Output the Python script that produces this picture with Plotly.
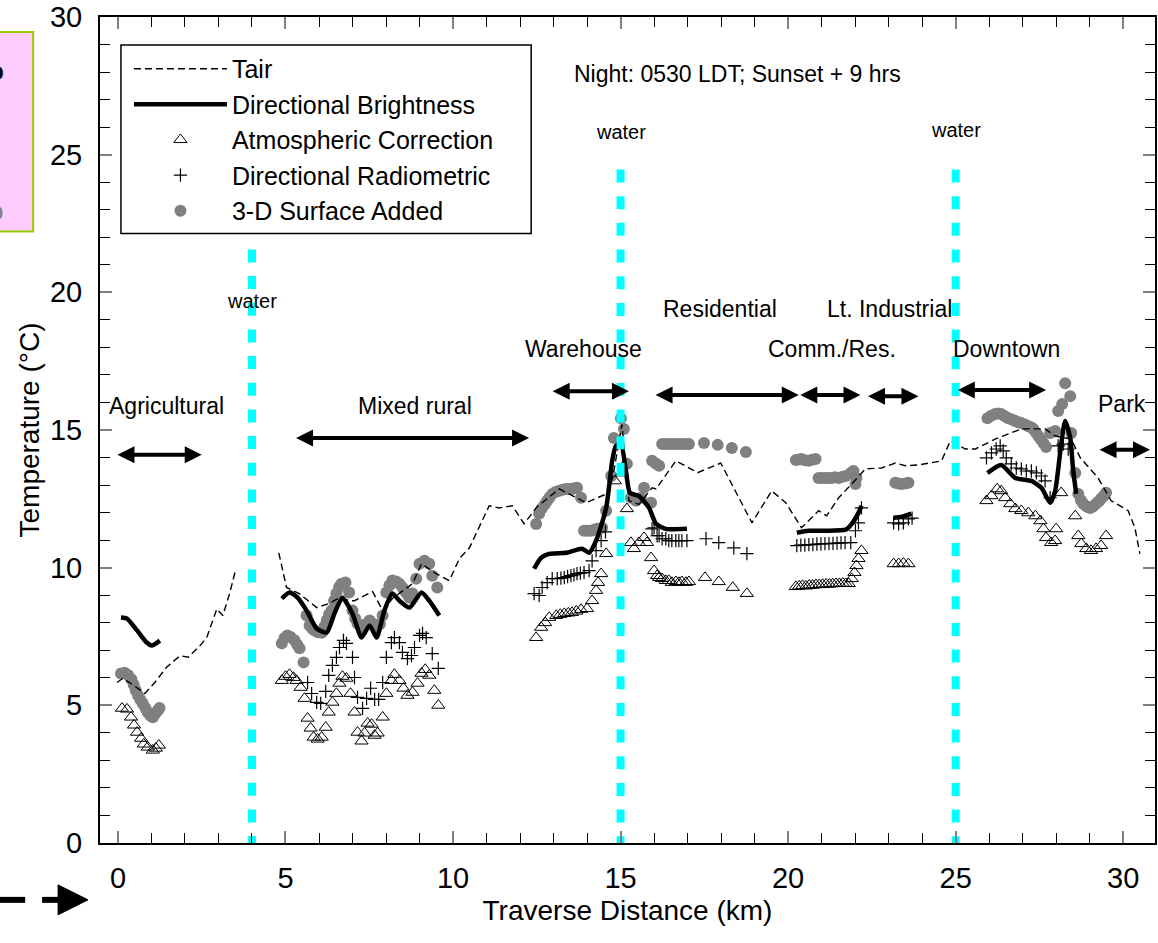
import plotly.graph_objects as go

FONT = "Liberation Sans, Arial, sans-serif"

# ---------------- data (traverse distance in km, temperature in deg C) ----------------
# Air temperature (dashed line); None separates the two measured stretches
tair_x = [-0.03, 0.15, 0.5, 0.8, 1.1, 1.45, 1.85, 2.1, 2.45, 2.65, 2.95, 3.13, 3.33, 3.52, None,
          4.8, 5.03, 5.42, 5.93, 6.3, 6.61, 6.91, 7.06, 7.6, 7.9, 8.19, 8.79, 9.06, 9.5, 9.89,
          10.19, 10.49, 11.08, 11.38, 11.77, 12.12, 12.5, 13.17, 13.97, 14.66, 14.8, 15.04,
          15.25, 15.55, 15.94, 16.06, 16.65, 17.3, 17.99, 18.53, 18.92, 19.51, 19.93, 20.4,
          20.91, 21.15, 21.51, 21.9, 22.31, 22.79, 23.2, 23.5, 23.9, 24.58, 24.84, 25.29, 25.59,
          26.18, 26.96, 27.67, 27.97, 28.45, 28.72, 29.25, 29.64, 30.15, 30.35, 30.5]
tair_y = [5.83, 5.98, 5.7, 5.43, 5.83, 6.38, 6.8, 6.75, 7.17, 7.46, 8.5, 8.26, 9.05, 9.96, None,
          10.54, 9.28, 9.05, 8.55, 8.7, 8.91, 8.8, 8.8, 9.13, 8.44, 8.88, 9.42, 10.14, 9.78, 9.53,
          10.33, 10.72, 12.25, 12.17, 12.25, 11.59, 12.2, 12.86, 12.36, 12.72, 13.51, 15.2,
          12.43, 12.3, 12.9, 12.86, 13.88, 13.45, 13.8, 12.54, 11.63, 12.79, 12.36, 11.45,
          12.07, 11.88, 12.54, 13.04, 13.59, 13.62, 13.8, 13.7, 13.73, 13.88, 14.6, 14.31, 14.31,
          14.67, 15.04, 15.04, 14.78, 14.67, 13.99, 13.26, 12.43, 12.07, 11.45, 10.5]

# Directional brightness temperature (thick line)
bright_x = [0.09, 0.27, 0.57, 0.86, 1.01, 1.25, None,
            4.89, 5.12, 5.36, 5.63, 5.93, 6.23, 6.46, 6.7, 7.0, 7.27, 7.51, 7.72, 7.95, 8.19,
            8.4, 8.7, 9.06, 9.29, 9.59, None,
            12.42, 12.63, 12.87, 13.37, 13.85, 14.06, 14.27, 14.57, 14.75, 14.86, 15.01, 15.16,
            15.28, 15.55, 15.85, 16.06, 16.35, 16.98, None,
            20.26, 20.61, 21.12, 21.72, 21.9, 22.1, 22.19, None,
            23.15, 23.4, 23.68, None,
            25.95, 26.36, 26.78, 27.26, 27.56, 27.82, 27.97, 28.15, 28.27, 28.42, 28.51, 28.6]
bright_y = [8.19, 8.15, 7.72, 7.28, 7.17, 7.35, None,
            8.88, 9.1, 8.91, 8.44, 7.79, 7.64, 8.33, 8.91, 8.33, 7.46, 7.9, 7.46, 8.44, 9.06,
            8.8, 8.55, 9.1, 8.8, 8.26, None,
            9.96, 10.36, 10.5, 10.54, 10.69, 10.54, 10.98, 12.17, 13.88, 14.42, 14.49, 13.51,
            12.72, 12.6, 12.17, 11.59, 11.41, 11.41, None,
            11.27, 11.34, 11.34, 11.38, 11.59, 11.99, 12.25, None,
            11.81, 11.85, 11.96, None,
            13.44, 13.73, 13.26, 13.15, 12.9, 12.36, 12.79, 14.49, 15.33, 14.71, 13.51, 12.68]

# Atmospheric correction (open triangles)
atm_x = [0.12, 0.27, 0.39, 0.48, 0.57, 0.69, 0.77, 0.89, 1.04, 1.13, 1.22,
         4.89, 5.0, 5.12, 5.24, 5.33, 5.45, 5.57, 5.66, 5.75, 5.84, 5.96, 6.08, 6.2, 6.29, 6.4,
         6.52, 6.61, 6.7, 6.82, 6.94, 7.06, 7.15, 7.27, 7.36, 7.45, 7.57, 7.66, 7.75, 7.9, 8.01,
         8.16, 8.25, 8.4, 8.52, 8.64, 8.79, 8.94, 9.06, 9.17, 9.29, 9.44, 9.56,
         12.48, 12.63, 12.75, 12.87, 13.08, 13.2, 13.32, 13.44, 13.55, 13.68, 13.82, 14.0, 14.15,
         14.27, 14.33, 14.42, 14.57, 14.83, 15.04, 15.19, 15.31, 15.4, 15.55, 15.7, 15.79, 15.91,
         16.0, 16.09, 16.15, 16.24, 16.35, 16.44, 16.53, 16.65, 16.74, 16.83, 16.95, 17.04,
         17.52, 17.93, 18.35, 18.77,
         20.23, 20.33, 20.43, 20.53, 20.63, 20.73, 20.83, 20.93, 21.03, 21.13, 21.23, 21.33,
         21.43, 21.53, 21.63, 21.72, 21.81, 21.9, 21.98, 22.04, 22.1, 22.19,
         23.15, 23.3, 23.44, 23.59,
         25.92, 26.07, 26.24, 26.36, 26.48, 26.63, 26.78, 26.96, 27.17, 27.38, 27.53, 27.62, 27.7,
         27.85, 27.97, 28.0, 28.15, 28.57, 28.66, 28.75, 28.9, 29.04, 29.19, 29.34, 29.49]
atm_y = [4.89, 4.86, 4.57, 4.28, 4.02, 3.8, 3.59, 3.48, 3.37, 3.44, 3.55,
         5.9, 6.05, 6.12, 6.01, 5.9, 5.65, 5.25, 4.53, 4.17, 3.84, 3.77, 3.84, 4.2, 4.75, 5.11,
         5.43, 5.8, 6.05, 5.98, 5.43, 4.75, 4.02, 3.7, 3.99, 4.35, 4.31, 3.91, 3.99, 4.57, 5.43,
         5.9, 6.12, 5.9, 5.62, 5.36, 5.47, 5.8, 6.16, 6.3, 6.09, 5.54, 5.0,
         7.46, 7.83, 8.0, 8.19, 8.26, 8.3, 8.33, 8.35, 8.37, 8.42, 8.48, 8.51, 8.8,
         9.17, 9.46, 9.78, 10.51, 13.15, 13.44, 12.14, 10.91, 10.69, 10.91, 11.09, 10.91, 10.36,
         9.89, 9.71, 9.64, 9.6, 9.53, 9.53, 9.46, 9.49, 9.46, 9.49, 9.46, 9.49,
         9.64, 9.49, 9.28, 9.06,
         9.31, 9.33, 9.35, 9.33, 9.36, 9.36, 9.38, 9.38, 9.39, 9.4, 9.4, 9.41,
         9.42, 9.42, 9.43, 9.42, 9.42, 9.6, 9.82, 10.07, 10.33, 10.62,
         10.14, 10.14, 10.16, 10.14,
         12.43, 12.61, 12.86, 12.79, 12.54, 12.32, 12.14, 12.07, 11.99, 11.88, 11.7, 11.41, 11.09,
         10.91, 10.98, 11.41, 12.72, 11.88, 11.16, 10.87, 10.69, 10.62, 10.69, 10.8, 11.16]

# Directional radiometric temperature (crosses)
rad_x = [5.66, 5.78, 5.93, 6.05, 6.2, 6.29, 6.4, 6.52, 6.61, 6.73, 6.82, 7.0, 7.06, 7.15, 7.3,
         7.42, 7.54, 7.66, 7.78, 7.9, 8.01, 8.16, 8.25, 8.4, 8.49, 8.64, 8.76, 8.85, 9.0, 9.09,
         9.2, 9.38, 9.56,
         12.42, 12.57, 12.66, 12.81, 12.96, 13.11, 13.22, 13.32, 13.42, 13.52, 13.61, 13.7, 13.8,
         13.91, 14.06, 14.15, 14.27, 14.42, 14.55,
         15.94, 16.0, 16.09, 16.15, 16.24, 16.35, 16.44, 16.53, 16.65, 16.74, 16.83, 16.98,
         17.55, 17.93, 18.38, 18.77,
         20.26, 20.38, 20.5, 20.62, 20.74, 20.86, 20.98, 21.1, 21.22, 21.34, 21.46, 21.58, 21.7,
         21.87, 22.01, 22.1, 22.19,
         23.15, 23.3, 23.44, 23.59, 23.7,
         25.92, 26.07, 26.21, 26.33, 26.42, 26.51, 26.66, 26.81, 26.96, 27.11, 27.26, 27.41,
         27.56, 27.67, 27.82, 28.06, 28.21, 28.36]
rad_y = [5.83, 5.43, 5.11, 5.07, 5.51, 6.09, 6.45, 6.74, 7.1, 7.36, 7.25, 6.74, 6.01, 5.29, 4.89,
         5.25, 5.62, 5.22, 5.22, 5.83, 6.74, 7.28, 7.46, 7.28, 6.92, 6.7, 6.81, 7.1, 7.54, 7.61,
         7.46, 6.88, 6.34,
         9.06, 8.99, 9.28, 9.46, 9.6, 9.6, 9.62, 9.64, 9.68, 9.71, 9.74, 9.78, 9.8,
         9.82, 9.89, 10.25, 10.62, 10.98, 11.3,
         11.41, 11.45, 11.16, 11.16, 11.05, 11.05, 10.98, 10.98, 10.98, 10.98, 10.98, 10.98,
         11.05, 10.91, 10.72, 10.51,
         10.8, 10.82, 10.82, 10.84, 10.84, 10.86, 10.86, 10.87, 10.87, 10.88, 10.89, 10.9, 10.91,
         10.91, 11.34, 11.63, 12.17,
         11.63, 11.59, 11.63, 11.77, 11.8,
         13.99, 14.17, 14.31, 14.42, 14.24, 13.99, 13.77, 13.62, 13.59, 13.51, 13.51, 13.44,
         13.33, 13.15, 12.54, 14.42, 14.49, 14.31]

# 3-D surface temperature added (grey dots)
surf_x = [0.09, 0.2, 0.3, 0.4, 0.47, 0.53, 0.6, 0.67, 0.74, 0.82, 0.89, 0.97, 1.04, 1.12, 1.19, 1.24,
          4.89, 4.97, 5.06, 5.15, 5.27, 5.35, 5.42, 5.54,
          5.63, 5.72, 5.8, 5.87, 5.97, 6.08, 6.16, 6.23, 6.3, 6.37, 6.45, 6.52, 6.6, 6.67, 6.79,
          6.9, 7.0, 7.08, 7.15, 7.3, 7.41, 7.51, 7.62, 7.72, 7.82, 7.9, 8.01, 8.1, 8.19, 8.3,
          8.4, 8.48, 8.55, 8.62, 8.7, 8.79, 8.9, 9.0, 9.15, 9.29, 9.38, 9.53,
          12.48, 12.57, 12.66, 12.74, 12.81, 12.88, 12.96, 13.06, 13.17, 13.27, 13.37, 13.46,
          13.55, 13.63, 13.7, 13.82, 13.91, 14.02, 14.12, 14.21, 14.3, 14.45, 14.57, 14.72, 14.8,
          15.01, 15.1, 15.19, 15.31, 15.46, 15.61, 15.7, 15.91, 15.94, 16.05, 16.15, 16.24,
          16.35, 16.45, 16.53, 16.63, 16.74, 16.83, 16.95, 17.04, 17.49, 17.9, 18.32, 18.74,
          20.23, 20.33, 20.4, 20.5, 20.61, 20.72, 20.82, 20.91, 21.01, 21.12, 21.21, 21.3, 21.4,
          21.51, 21.62, 21.72, 21.87, 21.95, 22.04, 22.01,
          23.2, 23.29, 23.38, 23.49, 23.59,
          25.95, 26.06, 26.18, 26.27, 26.36, 26.47, 26.57, 26.68, 26.78, 26.87, 26.96, 27.07,
          27.17, 27.25, 27.32, 27.4, 27.47, 27.55, 27.62, 27.7, 27.82, 27.97, 28.06, 28.18,
          28.42, 28.27, 28.45, 28.57, 28.66, 28.74, 28.81, 28.91, 29.01, 29.1, 29.19, 29.27,
          29.34, 29.42, 29.49]
surf_y = [6.16, 6.18, 6.1, 5.95, 5.75, 5.55, 5.36, 5.2, 5.07, 4.9, 4.75, 4.62, 4.57, 4.7, 4.82, 4.9,
          7.25, 7.45, 7.54, 7.48, 7.36, 7.2, 7.07, 6.56,
          8.26, 7.9, 7.78, 7.72, 7.65, 7.64, 7.85, 8.08, 8.3, 8.44, 8.8, 9.06, 9.3, 9.42, 9.46,
          9.1, 8.44, 8.15, 7.97, 7.83, 7.95, 8.08, 7.95, 7.83, 7.95, 8.26, 9.1, 9.35, 9.53, 9.5,
          9.42, 9.3, 9.17, 9.05, 8.91, 9.06, 9.6, 10.14, 10.25, 10.14, 9.71, 9.28,
          11.59, 11.96, 12.17, 12.3, 12.43, 12.55, 12.68, 12.75, 12.79, 12.83, 12.86, 12.86,
          12.86, 12.88, 12.9, 12.54, 11.34, 11.34, 11.34, 11.38, 11.41, 11.45, 12.07, 13.33, 14.71,
          15.43, 15.04, 13.77, 12.54, 12.43, 12.54, 12.9, 12.36, 13.88, 13.78, 13.7, 14.49,
          14.49, 14.49, 14.49, 14.49, 14.49, 14.49, 14.49, 14.49, 14.53, 14.46, 14.35, 14.2,
          13.91, 13.93, 13.95, 13.9, 13.88, 13.92, 13.95, 13.26, 13.26, 13.26, 13.26, 13.26, 13.28,
          13.26, 13.3, 13.33, 13.44, 13.51, 13.26, 13.04,
          13.08, 13.06, 13.04, 13.06, 13.08,
          15.43, 15.52, 15.58, 15.6, 15.58, 15.5, 15.43, 15.38, 15.33, 15.28, 15.25, 15.2,
          15.14, 15.1, 15.04, 14.9, 14.78, 14.65, 14.53, 14.38, 14.89, 14.96, 15.69, 15.94,
          16.23, 16.7, 14.89, 13.44, 12.68, 12.45, 12.32, 12.22, 12.17, 12.22, 12.32, 12.4,
          12.5, 12.6, 12.72]

# Water crossings along the route and the top of each marker line
water_x = [4, 15, 25]
water_top = [21.56, 24.46, 24.46]
water_label_y = [19.67, 25.83, 25.9]

# Land-use zones: label, label position, double arrow extent
zone_labels = ["Agricultural", "Mixed rural", "Warehouse", "Residential", "Comm./Res.",
               "Lt. Industrial", "Downtown", "Park"]
zone_label_x = [1.46, 8.85, 13.88, 17.96, 21.3, 23.03, 26.51, 29.97]
zone_label_y = [15.87, 15.87, 17.93, 19.38, 17.93, 19.38, 17.93, 15.94]
zone_start = [-0.06, 5.27, 12.93, 16.0, 20.32, 22.34, 25.02, 29.25]
zone_end = [2.5, 12.27, 15.25, 20.32, 22.16, 23.89, 27.7, 30.8]
zone_arrow_y = [14.1, 14.71, 16.41, 16.27, 16.27, 16.23, 16.45, 14.28]

# ---------------- page geometry helpers (pixels -> paper) ----------------
W, H = 1158, 943
ML, MR, MT, MB = 100, 1, 15, 100
PW, PH = W - ML - MR, H - MT - MB


def pxx(px):
    return (px - ML) / PW


def pxy(py):
    return (H - MB - py) / PH


fig = go.Figure()

fig.add_trace(go.Scatter(x=surf_x, y=surf_y, mode="markers", name="3-D Surface Added",
                         marker=dict(symbol="circle", size=12, color="#808080"), legendrank=5))
fig.add_trace(go.Scatter(x=atm_x, y=atm_y, mode="markers", name="Atmospheric Correction",
                         marker=dict(symbol="triangle-up-open", size=11.5, color="black",
                                     line=dict(width=1, color="black")), legendrank=3))
fig.add_trace(go.Scatter(x=rad_x, y=rad_y, mode="markers", name="Directional Radiometric",
                         marker=dict(symbol="cross-thin-open", size=9.5, color="black",
                                     line=dict(width=1.2, color="black")), legendrank=4))
fig.add_trace(go.Scatter(x=bright_x, y=bright_y, mode="lines", name="Directional Brightness",
                         line=dict(color="black", width=4.5, shape="spline", smoothing=0.6),
                         connectgaps=False, legendrank=2))
fig.add_trace(go.Scatter(x=tair_x, y=tair_y, mode="lines", name="Tair",
                         line=dict(color="black", width=1.4, dash="7px,4px"), connectgaps=False,
                         legendrank=1))

for wx, wtop in zip(water_x, water_top):
    fig.add_trace(go.Scatter(x=[wx, wx], y=[wtop, 0], mode="lines", showlegend=False,
                             hoverinfo="skip",
                             line=dict(color="#00FFFF", width=8, dash="13px,13.67px")))

# water labels
for wx, wy in zip(water_x, water_label_y):
    fig.add_annotation(x=wx, y=wy, xref="x", yref="y", text="water", showarrow=False,
                       font=dict(family=FONT, size=20, color="black"))

# zone labels and double arrows
for lab, lx, ly in zip(zone_labels, zone_label_x, zone_label_y):
    fig.add_annotation(x=lx, y=ly, xref="x", yref="y", text=lab, showarrow=False,
                       font=dict(family=FONT, size=23, color="black"))
for x0, x1, ay in zip(zone_start, zone_end, zone_arrow_y):
    fig.add_annotation(x=x1, y=ay, ax=x0, ay=ay, xref="x", yref="y", axref="x", ayref="y",
                       text="", showarrow=True, arrowside="end+start",
                       arrowhead=2, startarrowhead=2, arrowsize=0.85, startarrowsize=0.85,
                       arrowwidth=4, arrowcolor="black")

fig.add_annotation(x=18.5, y=27.93, xref="x", yref="y", text="Night: 0530 LDT; Sunset + 9 hrs",
                   showarrow=False, font=dict(family=FONT, size=23, color="black"))

# framed legend box
fig.add_shape(type="rect", xref="paper", yref="paper", x0=pxx(121), x1=pxx(532),
              y0=pxy(232), y1=pxy(43), line=dict(color="black", width=1.5),
              fillcolor="white", layer="above")

# pink note box at the left edge
fig.add_shape(type="rect", xref="paper", yref="paper", x0=pxx(-5), x1=pxx(33),
              y0=pxy(230), y1=pxy(30), line=dict(color="#99CC00", width=2),
              fillcolor="#FFCCFF")
fig.add_annotation(x=pxx(6), y=pxy(52), xref="paper", yref="paper", text="<b>o</b>",
                   showarrow=False, xanchor="right", font=dict(family=FONT, size=26, color="black"))
fig.add_annotation(x=pxx(5), y=pxy(192), xref="paper", yref="paper", text="o",
                   showarrow=False, xanchor="right", font=dict(family=FONT, size=26, color="#808080"))

# dashed direction arrow below the left corner
for x0, x1 in [(-5, 25), (42, 58)]:
    fig.add_shape(type="line", xref="paper", yref="paper", x0=pxx(x0), x1=pxx(x1),
                  y0=pxy(900), y1=pxy(900), line=dict(color="black", width=6))
fig.add_shape(type="path", xref="paper", yref="paper",
              path=f"M {pxx(58)} {pxy(885)} L {pxx(88)} {pxy(900)} L {pxx(58)} {pxy(915)} Z",
              fillcolor="black", line=dict(color="black", width=1))

axis_common = dict(ticks="inside", ticklen=12, tickwidth=1.5, tickcolor="#808080",
                   showline=True, linecolor="black", linewidth=2, mirror="allticks",
                   showgrid=False, zeroline=False, ticklabeloverflow="allow",
                   tickfont=dict(family=FONT, size=29, color="black"))

fig.update_xaxes(range=[-0.536, 30.95], tick0=0, dtick=5,
                 minor=dict(dtick=1, ticks="inside", ticklen=10, tickcolor="black",
                            tickwidth=1.2, showgrid=False),
                 ticklabelstandoff=8,
                 title=dict(text="Traverse Distance (km)", standoff=8,
                            font=dict(family=FONT, size=28, color="black")),
                 **axis_common)
fig.update_yaxes(range=[0, 30], tick0=0, dtick=5,
                 minor=dict(dtick=1, ticks="inside", ticklen=10, tickcolor="black",
                            tickwidth=1.2, showgrid=False),
                 ticklabelstandoff=10,
                 title=dict(text="Temperature (°C)", standoff=2,
                            font=dict(family=FONT, size=28, color="black")),
                 **axis_common)

fig.update_layout(
    width=W, height=H,
    margin=dict(l=ML, r=MR, t=MT, b=MB, pad=0),
    paper_bgcolor="white", plot_bgcolor="white",
    font=dict(family=FONT, color="black"),
    hovermode=False,
    showlegend=True,
    legend=dict(x=pxx(129), y=pxy(44), xanchor="left", yanchor="top",
                bgcolor="rgba(0,0,0,0)", borderwidth=0, itemwidth=93,
                tracegroupgap=0, traceorder="normal",
                font=dict(family=FONT, size=25, color="black")),
)

fig.write_html("out.html")
